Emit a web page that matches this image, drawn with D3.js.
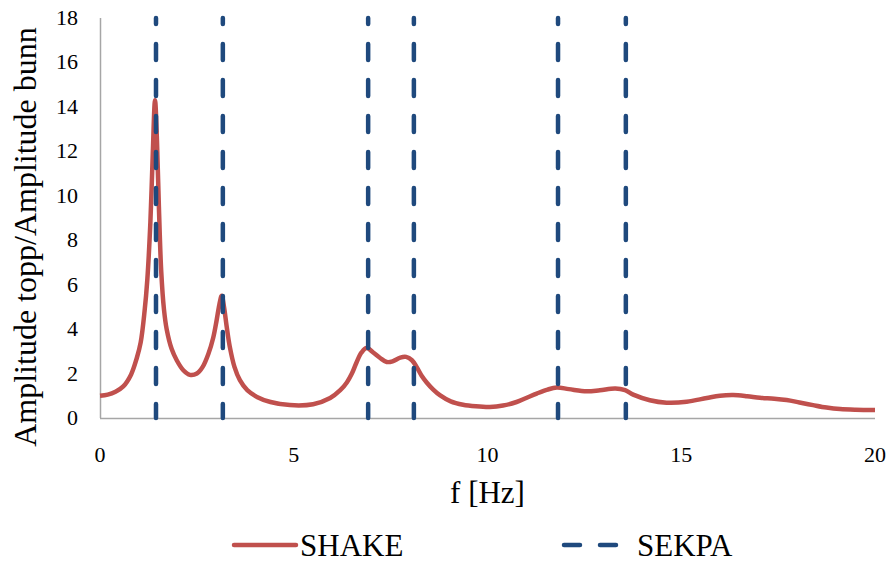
<!DOCTYPE html>
<html>
<head>
<meta charset="utf-8">
<script src="https://cdn.jsdelivr.net/npm/d3@7"></script>
</head>
<body style="margin:0">
<svg id="chart" width="889" height="563" style="display:block"></svg>
<script>
// SHAKE transfer function: frequency [Hz] and amplification ratio
const shakeFreq = [0.00, 0.20, 0.40, 0.60, 0.80, 0.95, 1.05, 1.15, 1.22, 1.30, 1.36, 1.42, 1.47, 1.52,
  1.58, 1.65, 1.72, 1.85, 1.98, 2.15, 2.32, 2.50, 2.65, 2.80, 2.92, 3.01, 3.08, 3.14, 3.20, 3.27,
  3.35, 3.47, 3.61, 3.80, 4.05, 4.40, 4.90, 5.50, 5.94, 6.20, 6.37, 6.50, 6.62, 6.75, 6.88, 7.05,
  7.23, 7.40, 7.55, 7.75, 7.90, 8.05, 8.17, 8.30, 8.43, 8.60, 8.77, 9.05, 9.37, 9.70, 10.06, 10.40,
  10.75, 11.00, 11.27, 11.55, 11.79, 12.10, 12.56, 12.90, 13.30, 13.55, 13.76, 14.19, 14.62, 15.14,
  15.66, 16.00, 16.34, 16.70, 17.03, 17.40, 17.72, 18.05, 18.40, 18.75, 19.10, 19.50, 20.00];
const shakeAmp = [1.00, 1.05, 1.18, 1.42, 1.95, 2.70, 3.40, 4.80, 6.20, 8.80, 11.80, 14.30, 12.50, 9.50,
  6.60, 4.90, 4.00, 3.10, 2.60, 2.15, 1.94, 2.00, 2.30, 2.90, 3.60, 4.40, 5.10, 5.50, 5.00, 4.10,
  3.20, 2.30, 1.70, 1.25, 0.95, 0.72, 0.58, 0.62, 0.90, 1.25, 1.60, 2.00, 2.50, 2.95, 3.15, 2.95,
  2.70, 2.52, 2.55, 2.72, 2.75, 2.60, 2.30, 1.90, 1.60, 1.28, 1.03, 0.75, 0.60, 0.53, 0.50, 0.56,
  0.72, 0.90, 1.10, 1.28, 1.37, 1.30, 1.20, 1.25, 1.33, 1.25, 1.05, 0.80, 0.69, 0.73,
  0.90, 1.00, 1.03, 0.98, 0.91, 0.87, 0.81, 0.70, 0.58, 0.47, 0.40, 0.37, 0.36];

// SEKPA natural frequencies [Hz]
const sekpaFreq = [1.445, 3.17, 6.92, 8.10, 11.82, 13.57];

// Axis ticks
const xTicks = [0, 5, 10, 15, 20];
const yTicks = [0, 2, 4, 6, 8, 10, 12, 14, 16, 18];

(function () {
  const svg = d3.select("#chart");
  const serif = '"Liberation Serif"';
  const plotLeft = 100, plotRight = 875, plotTop = 18, plotBottom = 418;

  const x = d3.scaleLinear().domain([0, 20]).range([plotLeft, plotRight]);
  const y = d3.scaleLinear().domain([0, 18]).range([plotBottom, plotTop]);

  const red = "#C0504D", blue = "#1F497D", axisGrey = "#A6A6A6";

  // Axis lines (no tick marks)
  svg.append("line").attr("x1", plotLeft + 0.5).attr("x2", plotLeft + 0.5)
    .attr("y1", plotTop).attr("y2", plotBottom)
    .attr("stroke", axisGrey).attr("stroke-width", 1.5);
  svg.append("line").attr("x1", plotLeft).attr("x2", plotRight)
    .attr("y1", plotBottom + 0.5).attr("y2", plotBottom + 0.5)
    .attr("stroke", axisGrey).attr("stroke-width", 1.5);

  // Tick labels
  svg.append("g").selectAll("text").data(yTicks).join("text")
    .style("font-family", serif).attr("font-size", 22)
    .attr("x", 78).attr("y", d => y(d) + 7)
    .attr("text-anchor", "end")
    .text(d => d);
  svg.append("g").selectAll("text").data(xTicks).join("text")
    .style("font-family", serif).attr("font-size", 22)
    .attr("x", d => x(d)).attr("y", 462)
    .attr("text-anchor", "middle")
    .text(d => d);

  // Axis titles
  svg.append("text").attr("x", x(10)).attr("y", 503)
    .style("font-family", serif)
    .attr("text-anchor", "middle").attr("font-size", 31).text("f [Hz]");
  svg.append("text")
    .attr("transform", "translate(36,237) rotate(-90)")
    .style("font-family", serif)
    .attr("text-anchor", "middle").attr("font-size", 32)
    .text("Amplitude topp/Amplitude bunn");

  // SHAKE curve
  const pts = shakeFreq.map((f, i) => [f, shakeAmp[i]]);
  const line = d3.line().x(d => x(d[0])).y(d => y(d[1])).curve(d3.curveCatmullRom.alpha(0.5));
  svg.append("path").datum(pts)
    .attr("d", line)
    .attr("fill", "none").attr("stroke", red)
    .attr("stroke-width", 4.5).attr("stroke-linejoin", "round");

  // SEKPA frequencies as dashed verticals
  svg.append("g").selectAll("line").data(sekpaFreq).join("line")
    .attr("x1", d => x(d)).attr("x2", d => x(d))
    .attr("y1", y(18)).attr("y2", y(0))
    .attr("stroke", blue).attr("stroke-width", 4.5)
    .attr("stroke-dasharray", "16,20").attr("stroke-dashoffset", 10)
    .attr("stroke-linecap", "round");

  // Legend
  const legY = 545;
  svg.append("line").attr("x1", 234).attr("x2", 296)
    .attr("y1", legY).attr("y2", legY)
    .attr("stroke", red).attr("stroke-width", 4.5).attr("stroke-linecap", "round");
  svg.append("text").attr("x", 300).attr("y", legY + 11)
    .style("font-family", serif)
    .attr("font-size", 31).text("SHAKE");
  svg.append("line").attr("x1", 564).attr("x2", 616)
    .attr("y1", legY).attr("y2", legY)
    .attr("stroke", blue).attr("stroke-width", 4.5)
    .attr("stroke-dasharray", "16,20").attr("stroke-linecap", "round");
  svg.append("text").attr("x", 637).attr("y", legY + 11)
    .style("font-family", serif)
    .attr("font-size", 31).text("SEKPA");
})();
</script>
</body>
</html>
